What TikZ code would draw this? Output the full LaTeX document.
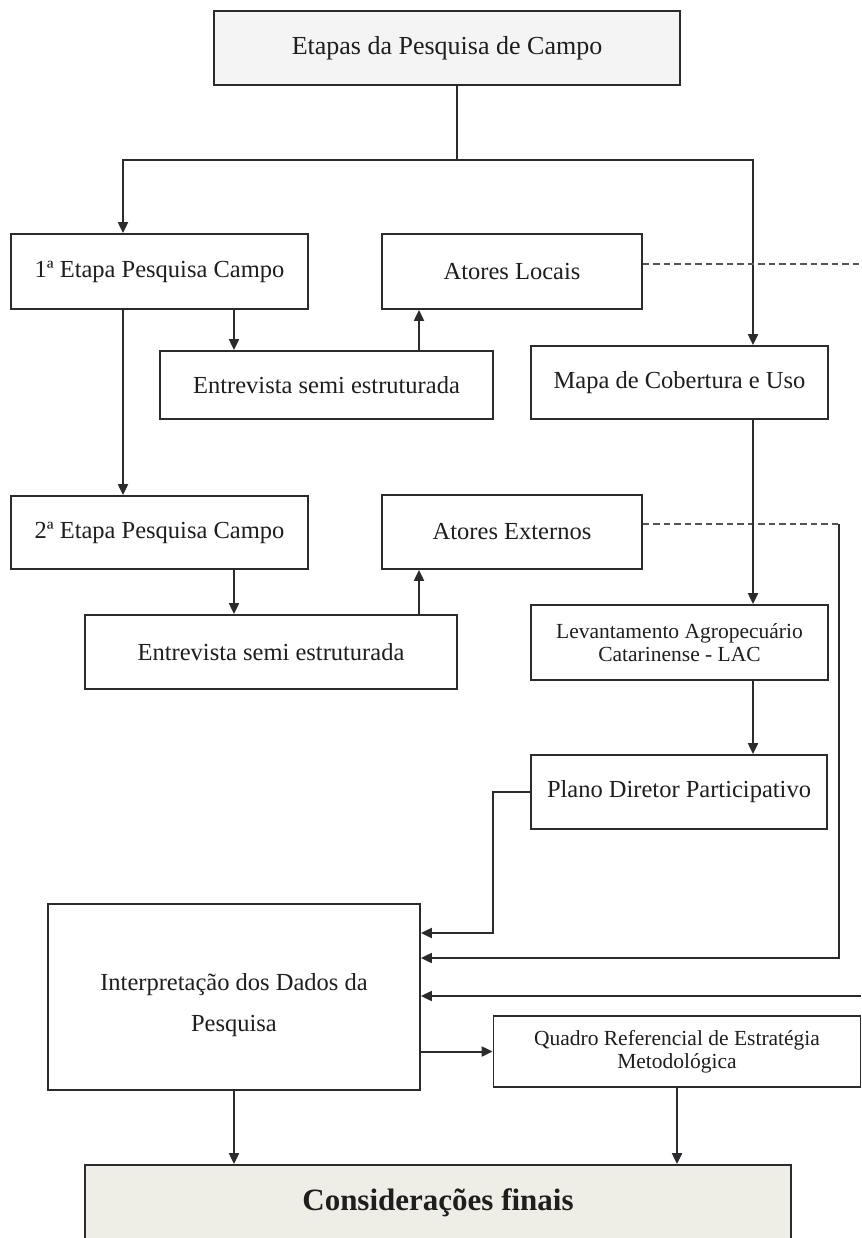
\documentclass[tikz,border=0pt]{standalone}
\usepackage{fontspec}
\setmainfont{Liberation Serif}
\usetikzlibrary{arrows.meta}
\definecolor{linec}{HTML}{2B2B2B}
\definecolor{textc}{HTML}{1E1E1E}
\definecolor{headfill}{HTML}{F4F4F4}
\definecolor{endfill}{HTML}{EEEDE6}
\begin{document}
\begin{tikzpicture}[x=1pt,y=-1pt,
  box/.style={draw=linec, line width=1.8pt, fill=white, inner sep=0pt,
    text=textc, align=center, font=\fontsize{24.5}{28}\selectfont},
  smallbox/.style={box, font=\fontsize{21.5}{23.5}\selectfont},
  label/.style={text=textc, align=center, inner sep=0pt},
  arr/.style={draw=linec, line width=2pt, -{Triangle[length=11pt,width=10pt]}},
  link/.style={draw=linec, line width=2pt},
  dashlink/.style={draw=linec!80, line width=2pt, dash pattern=on 6.5pt off 4pt}]

\useasboundingbox (0,0) rectangle (861,1238);
\fill[white] (0,0) rectangle (861,1238);
\clip (0,0) rectangle (861,1238);

% guide lines for the connectors
\coordinate (split) at (457,160);
\coordinate (xL) at (123,0);
\coordinate (xR) at (753,0);
\coordinate (xE) at (234,0);
\coordinate (xU) at (419,0);
\coordinate (xP) at (493,0);
\coordinate (xB) at (839,0);
\coordinate (xEdge) at (861,0);
\coordinate (yD1) at (0,264);
\coordinate (yD2) at (0,524);
\coordinate (yI1) at (0,933);
\coordinate (yI2) at (0,958);
\coordinate (yI3) at (0,996);

% boxes
\node[box, fill=headfill, minimum width=466pt, minimum height=74pt,
  font=\fontsize{26}{30}\selectfont] (top) at (447,48) {Etapas da Pesquisa de Campo};
\node[box, minimum width=297pt, minimum height=75pt] (s1) at (159.5,271.5) {1ª Etapa Pesquisa Campo};
\node[box, minimum width=260pt, minimum height=75pt] (al) at (512,271.5) {Atores Locais};
\node[box, minimum width=333pt, minimum height=68pt] (e1) at (326.5,385) {Entrevista semi estruturada};
\node[box, minimum width=297pt, minimum height=73pt] (mapa) at (679.5,382.5) {Mapa de Cobertura e Uso};
\node[box, minimum width=297pt, minimum height=73pt] (s2) at (159.5,532.5) {2ª Etapa Pesquisa Campo};
\node[box, minimum width=260pt, minimum height=74pt] (ae) at (512,532) {Atores Externos};
\node[box, minimum width=372pt, minimum height=74pt] (e2) at (271,652) {Entrevista semi estruturada};
\node[smallbox, minimum width=297pt, minimum height=75pt] (lac) at (679.5,642.5)
  {Levantamento Agropecuário\\Catarinense - LAC};
\node[box, minimum width=296pt, minimum height=74pt] (plano) at (679,792) {Plano Diretor Participativo};
\node[box, minimum width=372pt, minimum height=186pt] (interp) at (234,997) {};
\node[label, font=\fontsize{24.5}{41}\selectfont] (interptext) at (234,1005)
  {Interpretação dos Dados da\\Pesquisa};
\node[smallbox, minimum width=367pt, minimum height=71pt] (quadro) at (677,1051.5)
  {Quadro Referencial de Estratégia\\Metodológica};
\node[box, fill=endfill, minimum width=706pt, minimum height=75pt,
  font=\bfseries\fontsize{31}{34}\selectfont] (cons) at (438,1202.5) {Considerações finais};

% connectors
\draw[link] (top.south -| split) -- (split);
\draw[arr] (split) -| (s1.north -| xL);
\draw[arr] (split) -| (mapa.north -| xR);
\draw[arr] (s1.south -| xL) -- (s2.north -| xL);
\draw[arr] (s1.south -| xE) -- (e1.north -| xE);
\draw[arr] (e1.north -| xU) -- (al.south -| xU);
\draw[dashlink] (al.east |- yD1) -- (xEdge |- yD1);
\draw[arr] (s2.south -| xE) -- (e2.north -| xE);
\draw[arr] (e2.north -| xU) -- (ae.south -| xU);
\draw[dashlink] (ae.east |- yD2) -- (xB |- yD2);
\draw[arr] (xB |- yD2) |- (interp.east |- yI2);
\draw[arr] (mapa.south -| xR) -- (lac.north -| xR);
\draw[arr] (lac.south -| xR) -- (plano.north -| xR);
\draw[arr] (plano.west) -| (xP |- yI1) -- (interp.east |- yI1);
\draw[arr] (xEdge |- yI3) -- (interp.east |- yI3);
\draw[arr] (interp.east |- quadro.west) -- (quadro.west);
\draw[arr] (interp.south) -- (cons.north -| interp.south);
\draw[arr] (quadro.south) -- (cons.north -| quadro.south);
\end{tikzpicture}
\end{document}
